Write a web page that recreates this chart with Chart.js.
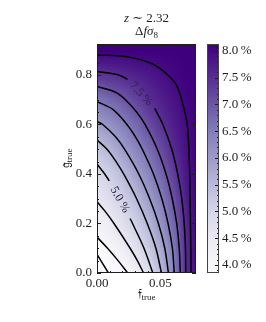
<!DOCTYPE html>
<html>
<head>
<meta charset="utf-8">
<script src="https://cdn.jsdelivr.net/npm/chart.js@4.4.0/dist/chart.umd.min.js"></script>
<style>
  html, body { margin: 0; padding: 0; background: #fff; }
  canvas { display: block; }
</style>
</head>
<body>
<canvas id="contour" width="266" height="322"></canvas>
<script>
// ---- data ----
const fNodes = [0, 0.01, 0.02, 0.03, 0.04, 0.05, 0.06, 0.07, 0.08];
const gNodes = [0, 0.1, 0.2, 0.3, 0.4, 0.5, 0.6, 0.7, 0.8, 0.9, 1.0];
// Delta f sigma_8 in %, one row per g node (bottom to top)
const sigmaGrid = [
    [3.30, 3.54, 3.87, 4.23, 4.73, 5.44, 6.40, 7.51, 8.30],
    [3.76, 4.05, 4.33, 4.68, 5.16, 5.76, 6.56, 7.53, 8.30],
    [4.19, 4.42, 4.73, 5.09, 5.52, 6.11, 6.79, 7.62, 8.30],
    [4.54, 4.80, 5.08, 5.45, 5.93, 6.44, 7.05, 7.72, 8.30],
    [4.87, 5.13, 5.47, 5.88, 6.31, 6.78, 7.30, 7.82, 8.30],
    [5.31, 5.58, 5.94, 6.30, 6.68, 7.11, 7.54, 7.91, 8.30],
    [5.93, 6.14, 6.41, 6.73, 7.08, 7.43, 7.72, 7.98, 8.30],
    [6.57, 6.76, 6.95, 7.20, 7.47, 7.68, 7.87, 8.05, 8.30],
    [7.39, 7.45, 7.54, 7.66, 7.78, 7.91, 8.02, 8.15, 8.30],
    [8.14, 8.18, 8.20, 8.22, 8.24, 8.26, 8.28, 8.30, 8.30],
    [8.30, 8.30, 8.30, 8.30, 8.30, 8.30, 8.30, 8.30, 8.30]
];
const colourRange = [3.85, 8.13];

// contour lines [f, g]; lines with a label are split at the label
const line80 = [[0, 0.881], [0.0242, 0.873], [0.043, 0.846], [0.0547, 0.805], [0.0625, 0.760], [0.0672, 0.691], [0.0711, 0.598], [0.0727, 0.457], [0.0734, 0.295], [0.0738, 0.133], [0.0742, 0]];
const line75a = [[0, 0.814], [0.0171, 0.800], [0.024, 0.782]];
const line75b = [[0.0455, 0.665], [0.0519, 0.600], [0.0589, 0.500], [0.0636, 0.400], [0.0668, 0.300], [0.0687, 0.200], [0.0697, 0.100], [0.0699, 0]];
const line70 = [[0, 0.753], [0.0146, 0.730], [0.0224, 0.700], [0.0312, 0.650], [0.0378, 0.600], [0.0475, 0.500], [0.0544, 0.400], [0.0593, 0.300], [0.0628, 0.200], [0.0648, 0.100], [0.0656, 0]];
const line65 = [[0, 0.692], [0.0127, 0.660], [0.0236, 0.600], [0.0303, 0.550], [0.0357, 0.500], [0.0445, 0.400], [0.0511, 0.300], [0.0560, 0.200], [0.0594, 0.100], [0.0609, 0]];
const line60 = [[0, 0.611], [0.0045, 0.600], [0.0146, 0.550], [0.0217, 0.500], [0.0329, 0.400], [0.0415, 0.300], [0.0484, 0.200], [0.0534, 0.100], [0.0563, 0]];
const line55 = [[0, 0.537], [0.0079, 0.500], [0.0150, 0.450], [0.0210, 0.400], [0.0312, 0.300], [0.0396, 0.200], [0.0464, 0.100], [0.0508, 0]];
const line50a = [[0, 0.440], [0.0061, 0.400], [0.0097, 0.372]];
const line50b = [[0.0261, 0.220], [0.0280, 0.200], [0.0370, 0.100], [0.0440, 0]];
const line45 = [[0, 0.288], [0.0063, 0.250], [0.0134, 0.200], [0.0261, 0.100], [0.0318, 0.050], [0.0367, 0]];
const line40 = [[0, 0.145], [0.0083, 0.100], [0.0166, 0.050], [0.0242, 0]];
const line35 = [[0, 0.075], [0.0090, 0]];

const contourLines = [line80, line75a, line75b, line70, line65, line60, line55, line50a, line50b, line45, line40, line35];
const labelledGaps = [
    { text: '7.5 %', from: line75a, to: line75b },
    { text: '5.0 %', from: line50a, to: line50b }
];

// ticks
const xTicks = [0, 0.05];
const xMinor = [0.01, 0.02, 0.03, 0.04, 0.06, 0.07];
const yTicks = [0, 0.2, 0.4, 0.6, 0.8];
const yMinor = [0.05, 0.1, 0.15, 0.25, 0.3, 0.35, 0.45, 0.5, 0.55, 0.65, 0.7, 0.75, 0.85, 0.9];
const cbTicks = [4.0, 4.5, 5.0, 5.5, 6.0, 6.5, 7.0, 7.5, 8.0];
const cbMinor = [3.9, 4.1, 4.2, 4.3, 4.4, 4.6, 4.7, 4.8, 4.9, 5.1, 5.2, 5.3, 5.4, 5.6, 5.7, 5.8, 5.9,
    6.1, 6.2, 6.3, 6.4, 6.6, 6.7, 6.8, 6.9, 7.1, 7.2, 7.3, 7.4, 7.6, 7.7, 7.8, 7.9, 8.1];

// ---- styling ----
const SERIF = "'Liberation Serif', 'DejaVu Serif', serif";
const INK = '#1e1e1e';
const PURPLES = [[252, 251, 253], [239, 237, 245], [218, 218, 235], [188, 189, 220], [158, 154, 200],
    [128, 125, 186], [106, 81, 163], [84, 39, 143], [63, 0, 125]];

function purple(v) {
    let t = (v - colourRange[0]) / (colourRange[1] - colourRange[0]);
    t = Math.min(1, Math.max(0, t)) * (PURPLES.length - 1);
    const i = Math.min(PURPLES.length - 2, Math.floor(t));
    const u = t - i;
    return PURPLES[i].map((c, k) => Math.round(c + (PURPLES[i + 1][k] - c) * u));
}

function drawRich(ctx, pieces, cx, baseY) {
    let w = 0;
    pieces.forEach(p => { ctx.font = p.font; w += ctx.measureText(p.t).width; });
    let x = cx - w / 2;
    ctx.textAlign = 'left';
    ctx.textBaseline = 'alphabetic';
    pieces.forEach(p => {
        ctx.font = p.font;
        ctx.fillText(p.t, x, baseY + (p.dy || 0));
        x += ctx.measureText(p.t).width;
    });
}

const heatmapPlugin = {
    id: 'heatmap',
    beforeDatasetsDraw(chart) {
        const { ctx, chartArea: a, scales: { x, y } } = chart;
        const img = document.createElement('canvas');
        img.width = fNodes.length;
        img.height = gNodes.length;
        const ic = img.getContext('2d');
        const px = ic.createImageData(img.width, img.height);
        sigmaGrid.forEach((row, j) => row.forEach((v, i) => {
            const c = purple(v);
            const k = ((img.height - 1 - j) * img.width + i) * 4;
            px.data[k] = c[0]; px.data[k + 1] = c[1]; px.data[k + 2] = c[2]; px.data[k + 3] = 255;
        }));
        ic.putImageData(px, 0, 0);
        const df = fNodes[1] - fNodes[0], dg = gNodes[1] - gNodes[0];
        const x0 = x.getPixelForValue(fNodes[0] - df / 2);
        const x1 = x.getPixelForValue(fNodes[fNodes.length - 1] + df / 2);
        const y0 = y.getPixelForValue(gNodes[gNodes.length - 1] + dg / 2);
        const y1 = y.getPixelForValue(gNodes[0] - dg / 2);
        ctx.save();
        ctx.beginPath();
        ctx.rect(a.left, a.top, a.right - a.left, a.bottom - a.top);
        ctx.clip();
        ctx.imageSmoothingEnabled = true;
        ctx.imageSmoothingQuality = 'low';
        ctx.drawImage(img, x0, y0, x1 - x0, y1 - y0);
        ctx.restore();
    }
};

const decorPlugin = {
    id: 'decor',
    afterDatasetsDraw(chart) {
        const { ctx, scales: { x, y } } = chart;
        // contour labels in the gaps
        ctx.save();
        labelledGaps.forEach(lab => {
            const p = lab.from[lab.from.length - 1], q = lab.to[0];
            const ax = x.getPixelForValue(p[0]), ay = y.getPixelForValue(p[1]);
            const bx = x.getPixelForValue(q[0]), by = y.getPixelForValue(q[1]);
            ctx.save();
            ctx.translate((ax + bx) / 2, (ay + by) / 2);
            ctx.rotate(Math.atan2(by - ay, bx - ax));
            ctx.font = '12px ' + SERIF;
            ctx.fillStyle = '#2b2540';
            ctx.textAlign = 'center';
            ctx.textBaseline = 'middle';
            ctx.fillText(lab.text, 0, 0);
            ctx.restore();
        });
        ctx.restore();
    },
    afterDraw(chart) {
        const { ctx, chartArea: a, scales: { x, y, cb } } = chart;
        ctx.save();
        ctx.strokeStyle = INK;
        ctx.lineWidth = 1;
        // inward ticks on all four sides
        const tick = (vals, len, isX) => vals.forEach(v => {
            ctx.beginPath();
            if (isX) {
                const p = Math.round(x.getPixelForValue(v)) + 0.5;
                ctx.moveTo(p, a.bottom); ctx.lineTo(p, a.bottom - len);
                ctx.moveTo(p, a.top); ctx.lineTo(p, a.top + len);
            } else {
                const p = Math.round(y.getPixelForValue(v)) + 0.5;
                ctx.moveTo(a.left, p); ctx.lineTo(a.left + len, p);
                ctx.moveTo(a.right, p); ctx.lineTo(a.right - len, p);
            }
            ctx.stroke();
        });
        tick(xTicks, 4, true); tick(xMinor, 2, true);
        tick(yTicks, 4, false); tick(yMinor, 2, false);
        ctx.strokeRect(a.left + 0.5, a.top + 0.5, a.right - a.left - 1, a.bottom - a.top - 1);

        // colour bar
        const barL = cb.left + 11, barW = 12;
        const top = cb.getPixelForValue(colourRange[1]), bot = cb.getPixelForValue(colourRange[0]);
        const grad = ctx.createLinearGradient(0, bot, 0, top);
        PURPLES.forEach((c, i) => grad.addColorStop(i / (PURPLES.length - 1), `rgb(${c.join(',')})`));
        ctx.fillStyle = grad;
        ctx.fillRect(barL, top, barW, bot - top);
        const cbTick = (vals, len) => vals.forEach(v => {
            const p = Math.round(cb.getPixelForValue(v)) + 0.5;
            ctx.beginPath();
            ctx.moveTo(barL + barW, p); ctx.lineTo(barL + barW - len, p);
            ctx.stroke();
        });
        cbTick(cbTicks, 4); cbTick(cbMinor, 2);
        ctx.strokeStyle = '#444';
        ctx.strokeRect(barL + 0.5, top + 0.5, barW - 1, bot - top - 1);

        // titles and axis labels
        ctx.fillStyle = INK;
        const cx = (a.left + a.right) / 2;
        drawRich(ctx, [
            { t: 'z', font: 'italic 13px ' + SERIF },
            { t: ' \u223C 2.32', font: '13px ' + SERIF }
        ], cx, 22);
        drawRich(ctx, [
            { t: '\u0394', font: '13px ' + SERIF },
            { t: 'f\u03C3', font: 'italic 13px ' + SERIF },
            { t: '8', font: '9px ' + SERIF, dy: 3 }
        ], cx, 35);
        drawRich(ctx, [
            { t: '\uD835\uDD23', font: '13px ' + SERIF },
            { t: 'true', font: '9px ' + SERIF, dy: 2 }
        ], cx, 298);
        ctx.save();
        ctx.translate(66, (a.top + a.bottom) / 2);
        ctx.rotate(-Math.PI / 2);
        drawRich(ctx, [
            { t: '\uD835\uDD24', font: '13px ' + SERIF },
            { t: 'true', font: '9px ' + SERIF, dy: 2 }
        ], 0, 4);
        ctx.restore();
        ctx.restore();
    }
};

const tickFont = { family: SERIF, size: 13 };

new Chart(document.getElementById('contour'), {
    type: 'scatter',
    data: {
        datasets: contourLines.map(line => ({
            data: line.map(([f, g]) => ({ x: f, y: g })),
            showLine: true,
            borderColor: '#000',
            borderWidth: 1.5,
            pointRadius: 0,
            tension: 0.35,
            fill: false
        }))
    },
    options: {
        responsive: false,
        animation: false,
        devicePixelRatio: 1,
        events: [],
        layout: { padding: { top: 44, left: 0, right: 0, bottom: 0 } },
        plugins: { legend: { display: false }, tooltip: { enabled: false } },
        scales: {
            x: {
                type: 'linear', min: 0, max: 0.078,
                grid: { display: false, drawTicks: false }, border: { display: false },
                afterBuildTicks: s => { s.ticks = xTicks.map(v => ({ value: v })); },
                afterFit: s => { s.height = 49; },
                ticks: { font: tickFont, color: INK, padding: 3, maxRotation: 0, callback: v => v.toFixed(2) }
            },
            y: {
                type: 'linear', min: 0, max: 0.925,
                grid: { display: false, drawTicks: false }, border: { display: false },
                afterBuildTicks: s => { s.ticks = yTicks.map(v => ({ value: v })); },
                afterFit: s => { s.width = 97; },
                ticks: { font: tickFont, color: INK, padding: 5, callback: v => v.toFixed(1) }
            },
            cb: {
                type: 'linear', position: 'right', min: colourRange[0], max: colourRange[1],
                grid: { display: false, drawTicks: false }, border: { display: false },
                afterBuildTicks: s => { s.ticks = cbTicks.map(v => ({ value: v })); },
                afterFit: s => { s.width = 70; },
                ticks: { font: tickFont, color: INK, padding: 26, callback: v => v.toFixed(1) + '\u2009%' }
            }
        }
    },
    plugins: [heatmapPlugin, decorPlugin]
});
</script>
</body>
</html>
